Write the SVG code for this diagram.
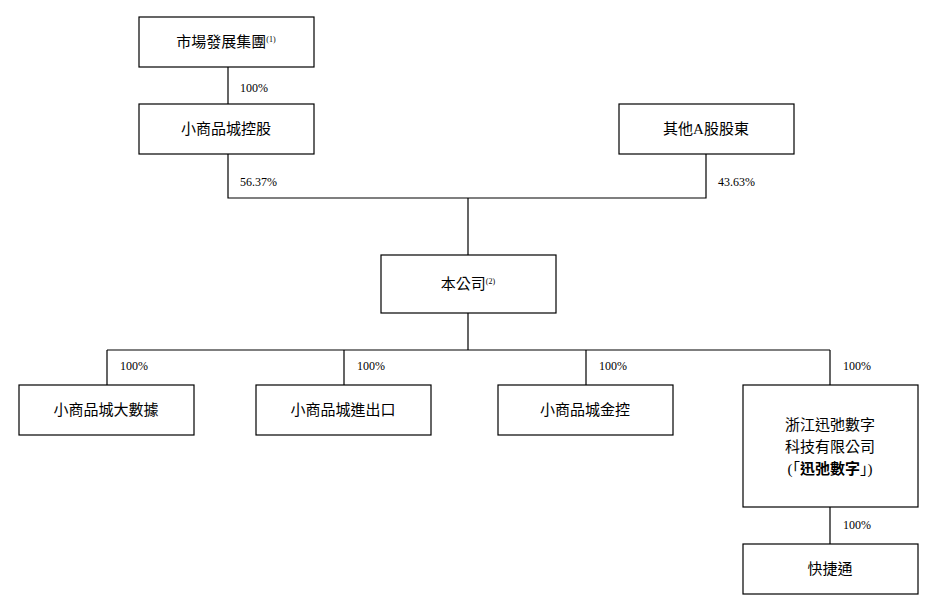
<svg xmlns="http://www.w3.org/2000/svg" width="939" height="609" viewBox="0 0 939 609">
<style>
.b{fill:#fff;stroke:#000;stroke-width:1.2}
.t{font-family:"Liberation Serif","Noto Sans CJK TC",serif;font-size:15px;text-anchor:middle}
.s{font-size:8px}
.p{font-family:"Liberation Serif",serif;font-size:12px}
.c{stroke:#000;stroke-width:1.2;fill:none}
</style>
<rect width="939" height="609" fill="#fff"/>
<g id="connectors">
<path class="c" d="M228 67V104M228 154V198H706V154M468 198V255M468 313V350M107 350H830M107 350V385M344 350V385M586 350V385M830 350V385M830 507V544"/>
<text class="p" x="240" y="92">100%</text>
<text class="p" x="240" y="186">56.37%</text>
<text class="p" x="718" y="186">43.63%</text>
<text class="p" x="120" y="370">100%</text>
<text class="p" x="357" y="370">100%</text>
<text class="p" x="599" y="370">100%</text>
<text class="p" x="843" y="370">100%</text>
<text class="p" x="843" y="529">100%</text>
</g>
<g id="n1"><rect class="b" x="139" y="17" width="175" height="50"/><text class="t" x="226" y="47">市場發展集團<tspan class="s" dy="-5">(1)</tspan></text></g>
<g id="n2"><rect class="b" x="139" y="104" width="175" height="50"/><text class="t" x="226" y="134">小商品城控股</text></g>
<g id="n3"><rect class="b" x="619" y="104" width="175" height="50"/><text class="t" x="706" y="134">其他A股股東</text></g>
<g id="n4"><rect class="b" x="381" y="255" width="175" height="58"/><text class="t" x="468" y="289">本公司<tspan class="s" dy="-5">(2)</tspan></text></g>
<g id="n5"><rect class="b" x="19" y="385" width="175" height="50"/><text class="t" x="106" y="415">小商品城大數據</text></g>
<g id="n6"><rect class="b" x="256" y="385" width="175" height="50"/><text class="t" x="343" y="415">小商品城進出口</text></g>
<g id="n7"><rect class="b" x="498" y="385" width="175" height="50"/><text class="t" x="585" y="415">小商品城金控</text></g>
<g id="n8"><rect class="b" x="743" y="385" width="175" height="122"/><text class="t" x="830" y="430">浙江迅弛數字</text><text class="t" x="830" y="452">科技有限公司</text><text class="t" x="830" y="474">(「<tspan font-weight="bold">迅弛數字</tspan>」)</text></g>
<g id="n9"><rect class="b" x="743" y="544" width="175" height="50"/><text class="t" x="830" y="574">快捷通</text></g>
</svg>
